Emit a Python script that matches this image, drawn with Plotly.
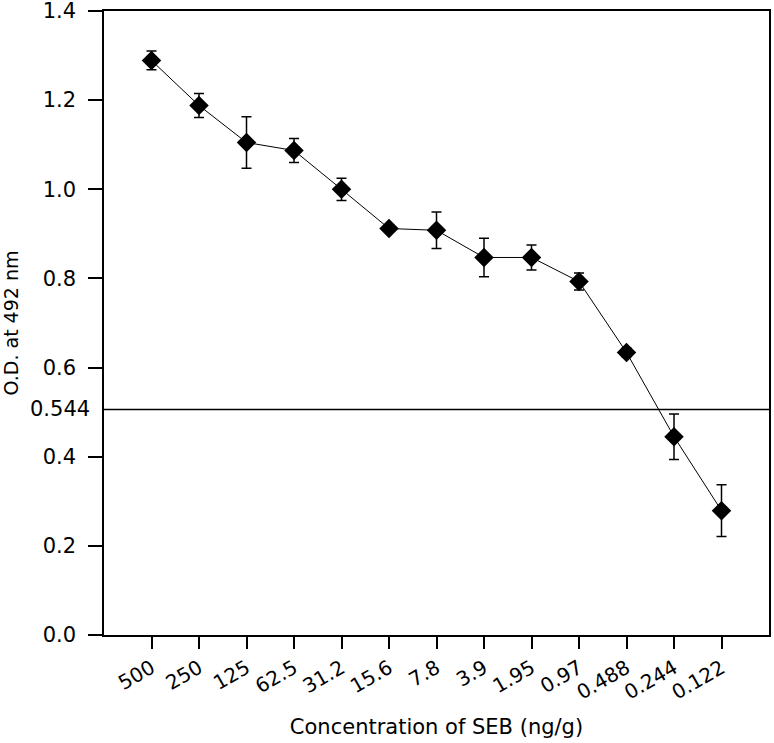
import plotly.graph_objects as go

categories = ["500", "250", "125", "62.5", "31.2", "15.6", "7.8", "3.9", "1.95", "0.97", "0.488", "0.244", "0.122"]
od_values = [1.289, 1.188, 1.105, 1.087, 1.000, 0.912, 0.908, 0.847, 0.847, 0.793, 0.634, 0.445, 0.279]
od_errors = [0.021, 0.027, 0.058, 0.027, 0.025, 0.006, 0.041, 0.043, 0.028, 0.019, 0.010, 0.051, 0.058]
y_ticks = [0.0, 0.2, 0.4, 0.6, 0.8, 1.0, 1.2, 1.4]
y_tick_labels = ["0.0", "0.2", "0.4", "0.6", "0.8", "1.0", "1.2", "1.4"]
cutoff_drawn_y = 0.506
cutoff_label = "0.544"

x_idx = list(range(len(categories)))
FONT = "DejaVu Sans, Arial, sans-serif"

fig = go.Figure()
fig.add_trace(go.Scatter(
    x=x_idx, y=od_values,
    mode="lines+markers",
    line=dict(color="black", width=1),
    marker=dict(symbol="diamond", size=15, color="black"),
    error_y=dict(type="data", array=od_errors, visible=True, color="black", thickness=1.5, width=5),
    showlegend=False,
))

fig.add_shape(type="line", xref="paper", x0=0, x1=1, yref="y", y0=cutoff_drawn_y, y1=cutoff_drawn_y,
              line=dict(color="black", width=1.5))
fig.add_annotation(xref="paper", x=0, yref="y", y=cutoff_drawn_y, text=cutoff_label, showarrow=False,
                   xanchor="right", yanchor="middle", xshift=-12, font=dict(family=FONT, size=21, color="black"))

fig.update_layout(
    width=774, height=743,
    margin=dict(l=104, r=5, t=11, b=108),
    paper_bgcolor="white", plot_bgcolor="white",
    font=dict(family=FONT, size=20, color="black"),
    xaxis=dict(
        range=[-1, 13], tickvals=x_idx, ticktext=categories, tickangle=-30,
        ticks="outside", ticklen=12, tickwidth=1.5, tickcolor="black",
        showline=True, linecolor="black", linewidth=1.5, mirror=True,
        showgrid=False, zeroline=False, automargin=False,
        title=dict(text="Concentration of SEB (ng/g)", standoff=16, font=dict(size=21)),
        tickfont=dict(size=20),
        ticklabeloverflow="allow",
    ),
    yaxis=dict(
        range=[0, 1.4], tickvals=y_ticks, ticktext=y_tick_labels,
        ticks="outside", ticklen=14, tickwidth=1.5, tickcolor="black",
        showline=True, linecolor="black", linewidth=1.5, mirror=True,
        showgrid=False, zeroline=False, automargin=False,
        title=dict(text="O.D. at 492 nm", standoff=23, font=dict(size=19)),
        tickfont=dict(size=21),
        ticklabelstandoff=8,
        ticklabeloverflow="allow",
    ),
)

fig.write_html("out.html", config={"displayModeBar": False},
               post_script="document.body.style.margin='0px';")
